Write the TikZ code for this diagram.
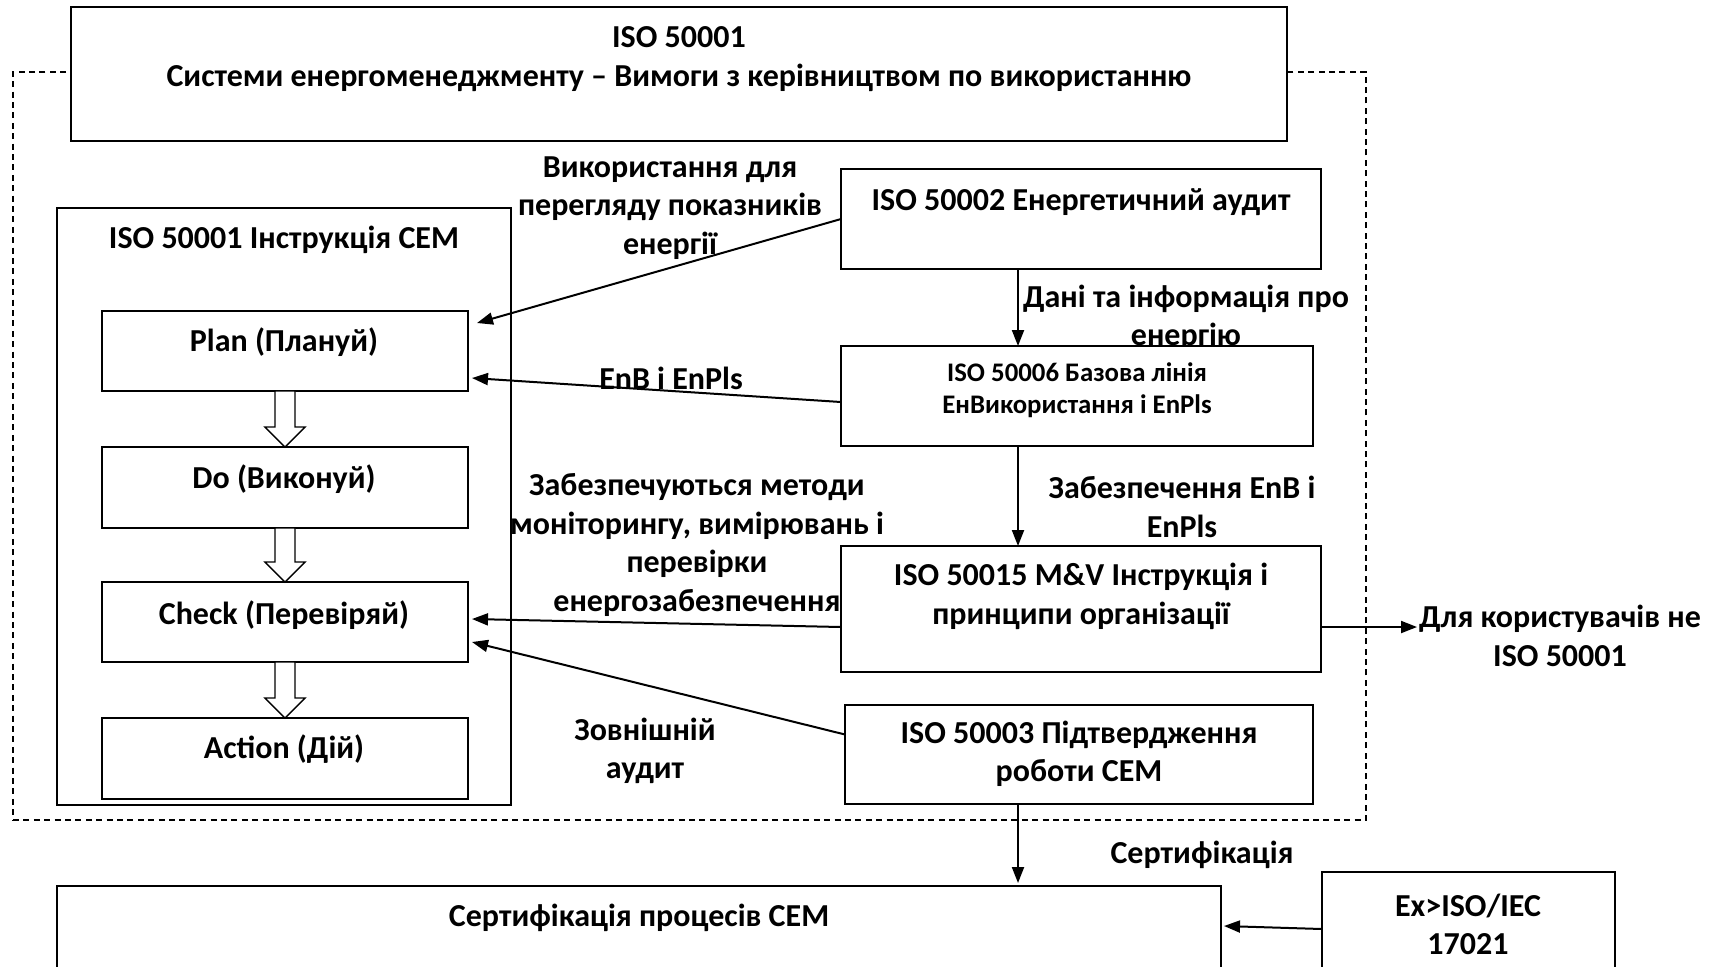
\documentclass[tikz,border=0pt]{standalone}
\usepackage{fontspec}
\setmainfont{Carlito}
\usetikzlibrary{arrows.meta,fit,calc}
\begin{document}
\begin{tikzpicture}[x=0.5pt,y=-0.5pt,
  box/.style={draw, line width=0.9pt, fill=white, inner sep=0pt, outer sep=0pt},
  txt/.style={font=\fontsize{16}{19.2}\selectfont\bfseries, align=center, inner sep=0pt},
  smalltxt/.style={font=\fontsize{13.4}{15.8}\selectfont\bfseries, align=center, inner sep=0pt},
  arr/.style={line width=1pt, -{Triangle[length=8pt,width=6pt]}},
  hollow/.style={draw, line width=0.7pt, fill=white},
  dashbox/.style={draw, line width=0.75pt, dash pattern=on 3pt off 2.2pt, inner sep=0pt, outer sep=0pt}
]
\useasboundingbox (0,0) rectangle (1713,966);
\clip (0,0) rectangle (1713,966);
\coordinate (vx) at (1018,0);

% labels (drawn first, boxes may cover them)
\node[txt] (l1) at (670,208) {Використання для\\перегляду показників\\енергії};
\node[txt] (l2) at (1186,318) {Дані та інформація про\\енергію};
\node[txt] (l3) at (671,378) {EnB і EnPls};
\node[txt] (l4) at (1182,507) {Забезпечення EnB і\\EnPls};
\node[txt] (l5) at (697,545) {Забезпечуються методи\\моніторингу, вимірювань і\\перевірки\\енергозабезпечення};
\node[txt] (l6) at (645,751) {Зовнішній\\аудит};
\node[txt] (l7) at (1202,855) {Сертифікація};
\node[txt] (users) at (1560,636) {Для користувачів не\\ISO 50001};

% dashed frame and top box
\node[dashbox, fit={(13,72) (1366,820)}] (frame) {};
\node[box, fit={(71,7) (1287,141)}] (top) {};
\node[txt] (ttop) at (679,59) {ISO 50001\\Системи енергоменеджменту – Вимоги з керівництвом по використанню};

% left column
\node[box, fit={(57,208) (511,805)}] (sem) {};
\node[txt] (tsem) at (284,240) {ISO 50001 Інструкція СЕМ};
\node[box, fit={(102,311) (468,391)}] (plan) {};
\node[box, fit={(102,447) (468,528)}] (do) {};
\node[box, fit={(102,582) (468,662)}] (check) {};
\node[box, fit={(102,718) (468,799)}] (action) {};
\node[txt] (tplan) at (284,342) {Plan (Плануй)};
\node[txt] (tdo) at (284,479) {Do (Виконуй)};
\node[txt] (tcheck) at (284,615) {Check (Перевіряй)};
\node[txt] (taction) at (284,749) {Action (Дій)};

% right column
\node[box, fit={(841,169) (1321,269)}] (a50002) {};
\node[txt] (t50002) at (1081,202) {ISO 50002 Енергетичний аудит};
\node[box, fit={(841,346) (1313,446)}] (a50006) {};
\node[smalltxt] (t50006) at (1077,390) {ISO 50006 Базова лінія\\ЕнВикористання і EnPls};
\node[box, fit={(841,546) (1321,672)}] (a50015) {};
\node[txt] (t50015) at (1081,596.5) {ISO 50015 M\&V Інструкція і\\принципи організації};
\node[box, fit={(845,705) (1313,804)}] (a50003) {};
\node[txt] (t50003) at (1079,754) {ISO 50003 Підтвердження\\роботи СЕМ};

% bottom
\node[box, fit={(57,886) (1221,1000)}] (cert) {};
\node[txt] (tcert) at (639,918) {Сертифікація процесів СЕМ};
\node[box, fit={(1322,872) (1615,1000)}] (ex) {};
\node[txt] (tex) at (1468,924.5) {Ex>ISO/IEC\\17021};

% hollow arrows
\foreach \a/\b in {plan/do, do/check, check/action}{
  \draw[hollow] ($(\a.south)+(-10,0)$) -- ($(\b.north)+(-10,-20)$) -- ($(\b.north)+(-20,-20)$)
    -- (\b.north) -- ($(\b.north)+(20,-20)$) -- ($(\b.north)+(10,-20)$) -- ($(\a.south)+(10,0)$) -- cycle;
}

% connectors
\draw[arr] (a50002.west) -- ([shift={(9,-28)}]plan.east);
\draw[arr] ([shift={(0,6)}]a50006.west) -- ([shift={(4,27)}]plan.east);
\draw[arr] ([shift={(0,18)}]a50015.west) -- ([shift={(4,-3)}]check.east);
\draw[arr] ([shift={(0,-20)}]a50003.west) -- ([shift={(4,20)}]check.east);
\draw[arr] (a50002.south -| vx) -- (a50006.north -| vx);
\draw[arr] (a50006.south -| vx) -- (a50015.north -| vx);
\draw[arr] (a50003.south -| vx) -- ([shift={(0,-3)}]cert.north -| vx);
\draw[arr] ([shift={(0,18)}]a50015.east) -- ++(96,0);
\draw[arr] (ex.west |- 0,929) -- ([shift={(3,0)}]cert.east |- 0,926);
\end{tikzpicture}
\end{document}
